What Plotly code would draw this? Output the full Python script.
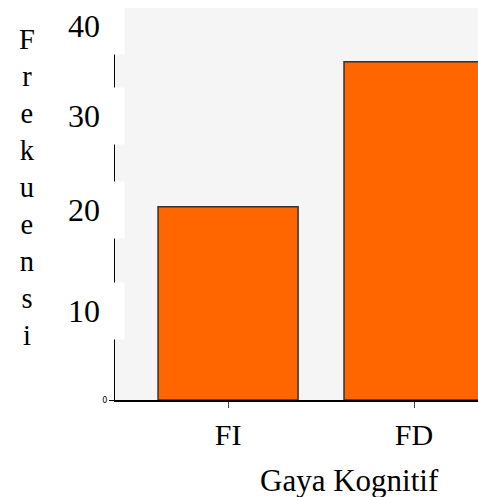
import plotly.graph_objects as go

categories = ["FI", "FD"]
frequencies = [20, 35]
y_tick_values = [10, 20, 30, 40]
y_tick_labels = ["10", "20", "30", "40"]
y_label_shift = [-8, -3.5, -6.5, -13]  # px offset of the label boxes
y_title = "Frekuensi"
x_title = "Gaya Kognitif"

FONT = "Liberation Serif"

fig = go.Figure(
    go.Bar(
        x=categories,
        y=frequencies,
        marker=dict(color="#FF6600", line=dict(color="#333333", width=1.5)),
        showlegend=False,
    )
)

annotations = []
for v, t, s in zip(y_tick_values, y_tick_labels, y_label_shift):
    annotations.append(dict(
        xref="paper", yref="y", x=0, y=v, xanchor="right", yanchor="middle",
        xshift=10, yshift=s, text=t, showarrow=False,
        font=dict(family=FONT, size=32, color="black"),
        bgcolor="white", width=78, height=54, align="center", valign="middle",
    ))

annotations.append(dict(
    xref="paper", yref="paper", x=0, y=0.543, xanchor="center", yanchor="middle",
    xshift=-88, text="<br>".join(list(y_title)), showarrow=False,
    font=dict(family=FONT, size=28.5, color="black"),
))
annotations.append(dict(
    xref="paper", yref="paper", x=0.647, y=-0.205, xanchor="center", yanchor="middle",
    text=x_title, showarrow=False,
    font=dict(family=FONT, size=31, color="black"),
))

fig.update_layout(
    width=478, height=497,
    margin=dict(l=115, r=0, t=8, b=97),
    paper_bgcolor="white",
    plot_bgcolor="#f5f5f5",
    bargap=0.247,
    font=dict(family=FONT, color="black"),
    annotations=annotations,
    xaxis=dict(
        range=[-0.608, 1.344],
        showline=True, linecolor="black", linewidth=1.5,
        ticks="outside", ticklen=6, tickcolor="#444444", tickwidth=1,
        tickfont=dict(family=FONT, size=30, color="black"),
        ticklabelstandoff=1,
        showgrid=False, zeroline=False,
    ),
    yaxis=dict(
        range=[0, 40.55],
        showline=True, linecolor="black", linewidth=1,
        tickvals=[0], ticktext=["0"],
        ticks="outside", ticklen=5, tickcolor="black",
        tickfont=dict(family="DejaVu Sans", size=8, color="black"),
        showgrid=False, zeroline=False,
    ),
)

fig.write_html(
    "out.html",
    config={"displayModeBar": False},
    post_script="document.body.style.margin='0';",
)
